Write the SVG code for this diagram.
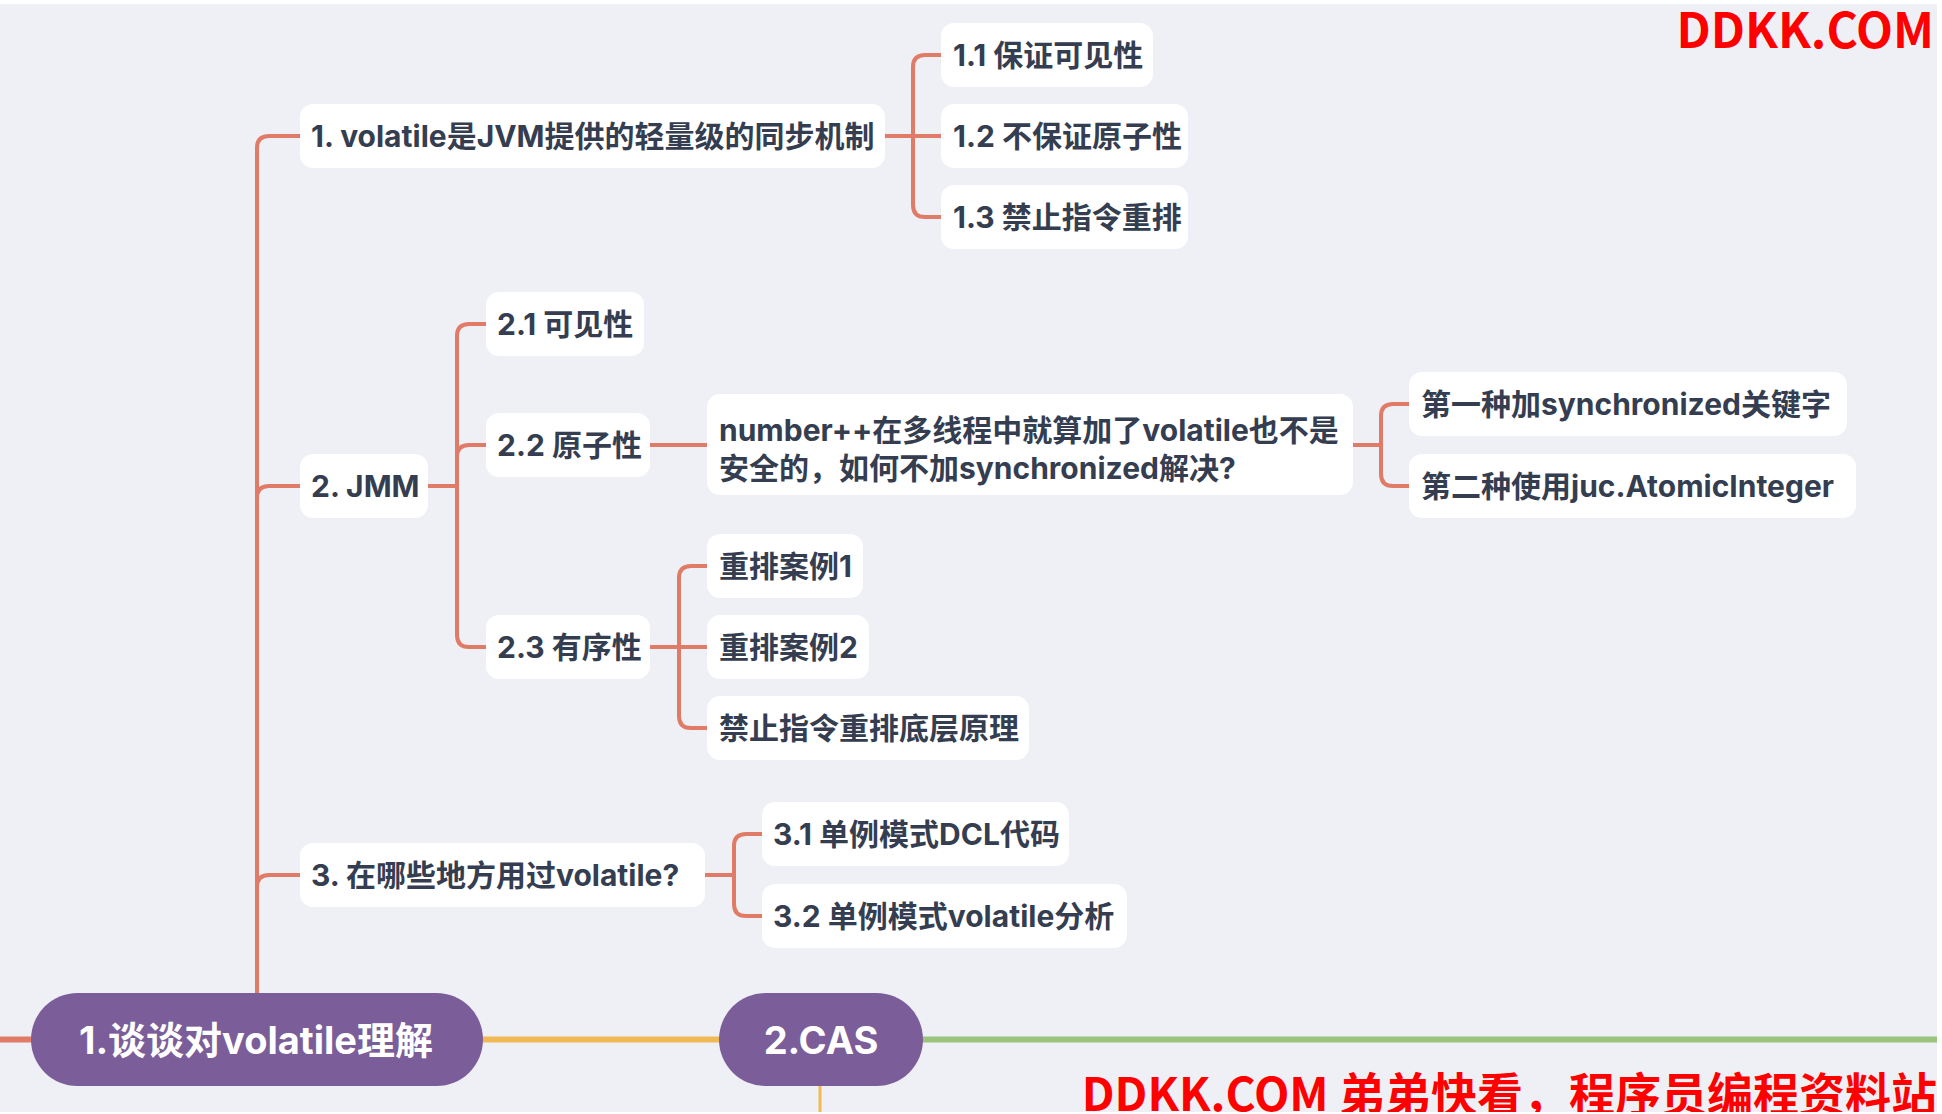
<svg xmlns="http://www.w3.org/2000/svg" width="1942" height="1114" viewBox="0 0 1942 1114">
<style>
.bg{fill:#eff0f5}
.node rect{fill:#ffffff}
.node text{font-family:Inter,"Noto Sans CJK SC","Noto Sans",sans-serif;font-weight:700;font-size:30px;fill:#353e50}
.root rect{fill:#7b5e99}
.root text{font-family:Inter,"Noto Sans CJK SC","Noto Sans",sans-serif;font-weight:700;font-size:38px;fill:#ffffff}
.conn path{fill:none;stroke:#e07b67;stroke-width:4;stroke-linecap:round}
.wm{font-family:"Noto Sans CJK SC","Liberation Sans",sans-serif;font-weight:700;fill:#ff0000}
</style>
<rect class="bg" x="0" y="0" width="1942" height="1114"/>
<g id="connectors" class="conn">
<path d="M31 1039.5 H0" style="stroke-width:6"/>
<path d="M483 1039.5 H719" style="stroke:#f0b955;stroke-width:6"/>
<path d="M923 1039.5 H1937" style="stroke:#9cc47e;stroke-width:6"/>
<path d="M820 1086 V1114" style="stroke:#f0b955;stroke-width:3"/>
<path d="M257 993 V148 Q257 136 269 136 H300"/>
<path d="M257 993 V498 Q257 486 269 486 H300"/>
<path d="M257 993 V887 Q257 875 269 875 H300"/>
<path d="M885 136 H941"/>
<path d="M913 136 V67 Q913 55 925 55 H941"/>
<path d="M913 136 V205 Q913 217 925 217 H941"/>
<path d="M428 486 H457"/>
<path d="M457 486 V336 Q457 324 469 324 H486"/>
<path d="M457 486 V457 Q457 445 469 445 H486"/>
<path d="M457 486 V635 Q457 647 469 647 H486"/>
<path d="M650 445 H707"/>
<path d="M1353 445 H1381"/>
<path d="M1381 445 V416 Q1381 404 1393 404 H1409"/>
<path d="M1381 445 V474 Q1381 486 1393 486 H1409"/>
<path d="M650 647 H707"/>
<path d="M679 647 V578 Q679 566 691 566 H707"/>
<path d="M679 647 V716 Q679 728 691 728 H707"/>
<path d="M705 875 H734"/>
<path d="M734 875 V846 Q734 834 746 834 H762"/>
<path d="M734 875 V904 Q734 916 746 916 H762"/>
</g>
<g id="root1" class="root">
<rect x="31" y="993" width="452" height="93" rx="46.5"/>
<text x="256" y="1054" text-anchor="middle">1.谈谈对volatile理解</text>
</g>
<g id="root2" class="root">
<rect x="719" y="993" width="204" height="93" rx="46.5"/>
<text x="821" y="1054" text-anchor="middle">2.CAS</text>
</g>
<g id="n1" class="node"><rect x="300" y="104" width="585" height="64" rx="13"/><text x="311" y="147">1. volatile是JVM提供的轻量级的同步机制</text></g>
<g id="n11" class="node"><rect x="941" y="23" width="212" height="64" rx="13"/><text x="953" y="66">1.1 保证可见性</text></g>
<g id="n12" class="node"><rect x="941" y="104" width="247" height="64" rx="13"/><text x="953" y="147">1.2 不保证原子性</text></g>
<g id="n13" class="node"><rect x="941" y="185" width="247" height="64" rx="13"/><text x="953" y="228">1.3 禁止指令重排</text></g>
<g id="n2" class="node"><rect x="300" y="454" width="128" height="64" rx="13"/><text x="311" y="497">2. JMM</text></g>
<g id="n21" class="node"><rect x="486" y="292" width="158" height="64" rx="13"/><text x="497" y="335">2.1 可见性</text></g>
<g id="n22" class="node"><rect x="486" y="413" width="164" height="64" rx="13"/><text x="497" y="456">2.2 原子性</text></g>
<g id="n221" class="node"><rect x="707" y="394" width="646" height="101" rx="13"/><text x="719" y="441">number++在多线程中就算加了volatile也不是</text><text x="719" y="479">安全的，如何不加synchronized解决?</text></g>
<g id="n2211" class="node"><rect x="1409" y="372" width="438" height="64" rx="13"/><text x="1421" y="415">第一种加synchronized关键字</text></g>
<g id="n2212" class="node"><rect x="1409" y="454" width="447" height="64" rx="13"/><text x="1421" y="497">第二种使用juc.AtomicInteger</text></g>
<g id="n23" class="node"><rect x="486" y="615" width="164" height="64" rx="13"/><text x="497" y="658">2.3 有序性</text></g>
<g id="n231" class="node"><rect x="707" y="534" width="156" height="64" rx="13"/><text x="719" y="577">重排案例1</text></g>
<g id="n232" class="node"><rect x="707" y="615" width="162" height="64" rx="13"/><text x="719" y="658">重排案例2</text></g>
<g id="n233" class="node"><rect x="707" y="696" width="322" height="64" rx="13"/><text x="719" y="739">禁止指令重排底层原理</text></g>
<g id="n3" class="node"><rect x="300" y="843" width="405" height="64" rx="13"/><text x="311" y="886">3. 在哪些地方用过volatile?</text></g>
<g id="n31" class="node"><rect x="762" y="802" width="307" height="64" rx="13"/><text x="773" y="845">3.1 单例模式DCL代码</text></g>
<g id="n32" class="node"><rect x="762" y="884" width="365" height="64" rx="13"/><text x="773" y="927">3.2 单例模式volatile分析</text></g>
<rect x="0" y="0" width="1942" height="4" fill="#ffffff"/>
<rect x="1937" y="0" width="5" height="1114" fill="#ffffff"/>
<text class="wm" x="1934" y="48" text-anchor="end" font-size="48">DDKK.COM</text>
<text class="wm" x="1937" y="1111" text-anchor="end" font-size="46">DDKK.COM 弟弟快看，程序员编程资料站</text>
<rect x="0" y="1112" width="1942" height="2" fill="#ffffff"/>
</svg>
